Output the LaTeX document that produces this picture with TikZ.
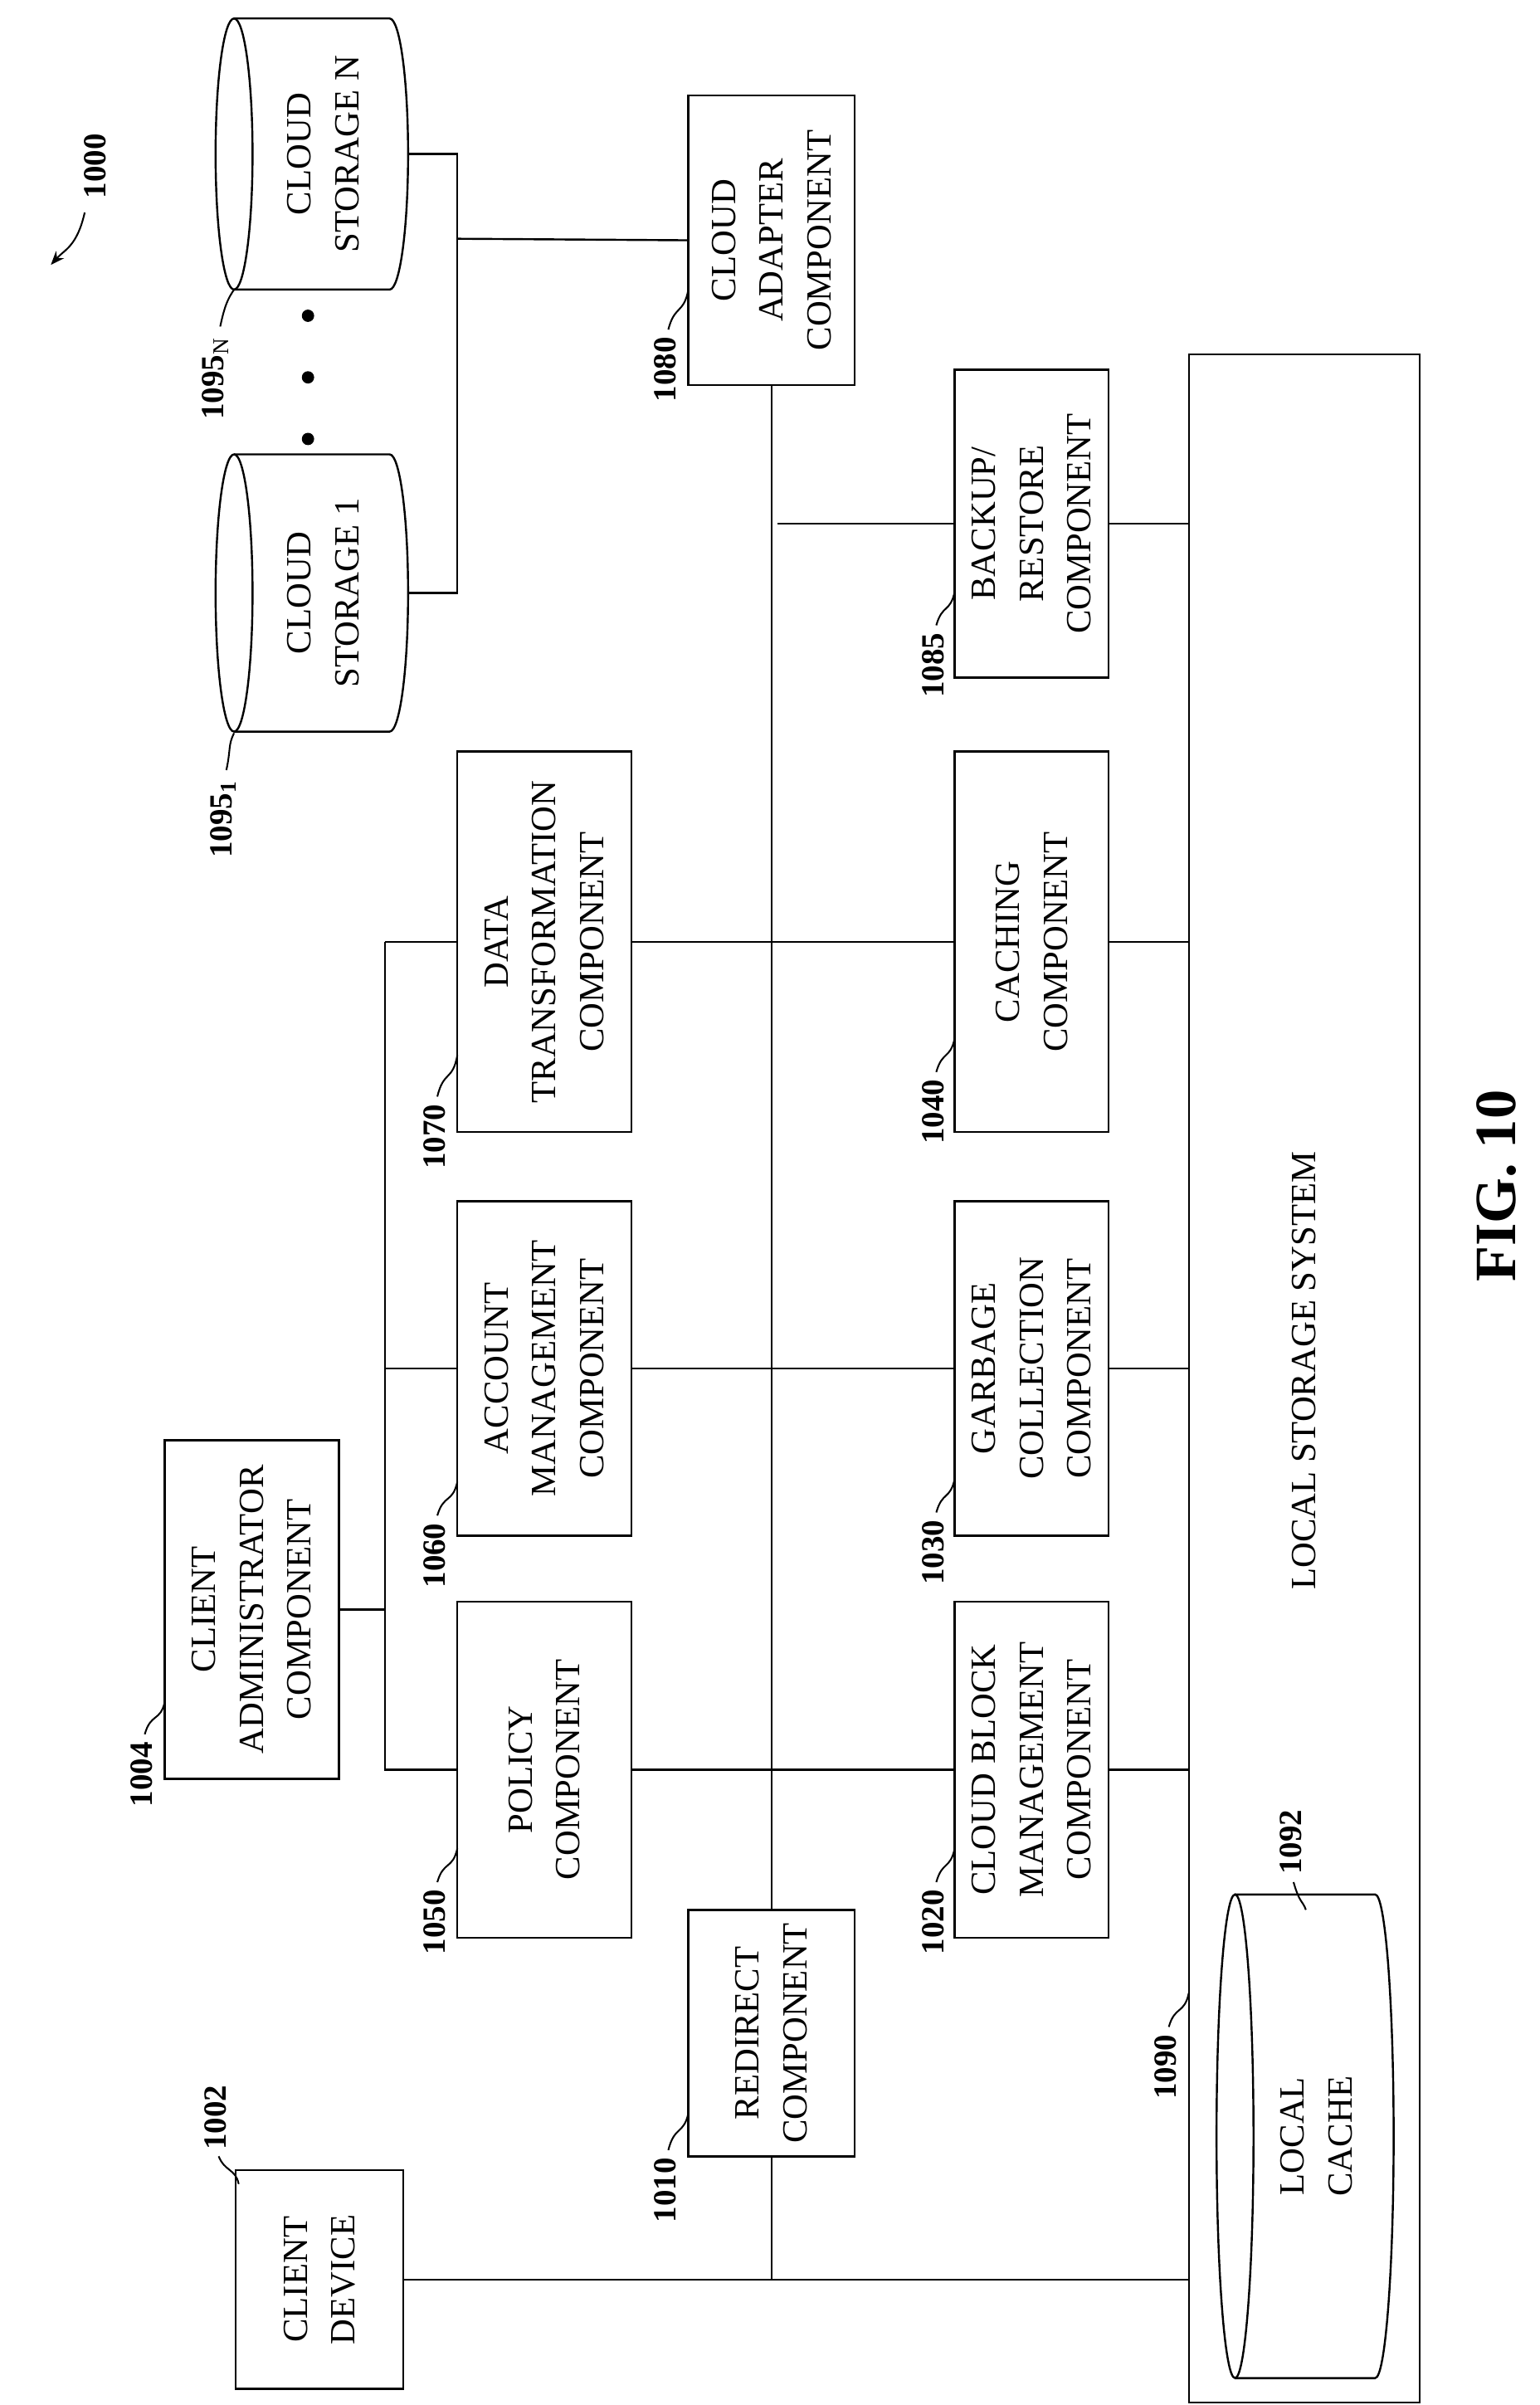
\documentclass[tikz,border=0pt]{standalone}
\usepackage{fontspec}
\setmainfont{Liberation Serif}
\usetikzlibrary{arrows.meta}
\begin{document}
\begin{tikzpicture}[x=1pt,y=-1pt,line width=1.3pt,
  box/.style={draw,rotate=90,align=center,font=\fontsize{23}{31}\selectfont,inner sep=0pt},
  txt/.style={rotate=90,align=center,font=\fontsize{23}{31}\selectfont},
  lbl/.style={rotate=90,font=\bfseries\fontsize{21}{24}\selectfont},
  lead/.style={line width=1.1pt}]
\useasboundingbox (0,0) rectangle (1000,1561.5);
\node[box,minimum width=142,minimum height=109] (client) at (207.5,1480) {CLIENT\\DEVICE};
\node[box,minimum width=160,minimum height=108] (redirect) at (501,1320) {REDIRECT\\COMPONENT};
\node[box,minimum width=218,minimum height=113] (policy) at (353.5,1149) {POLICY\\COMPONENT};
\node[box,minimum width=220,minimum height=113] (admin) at (163.5,1045) {CLIENT\\ADMINISTRATOR\\COMPONENT};
\node[box,minimum width=217,minimum height=113] (account) at (353.5,888.5) {ACCOUNT\\MANAGEMENT\\COMPONENT};
\node[box,minimum width=247,minimum height=113] (datat) at (353.5,611.5) {DATA\\TRANSFORMATION\\COMPONENT};
\node[box,minimum width=218,minimum height=100] (cbm) at (670,1149) {CLOUD BLOCK\\MANAGEMENT\\COMPONENT};
\node[box,minimum width=217,minimum height=100] (gc) at (670,888.5) {GARBAGE\\COLLECTION\\COMPONENT};
\node[box,minimum width=247,minimum height=100] (cache) at (670,611.5) {CACHING\\COMPONENT};
\node[box,minimum width=200,minimum height=100] (backup) at (670,340) {BACKUP/\\RESTORE\\COMPONENT};
\node[box,minimum width=188,minimum height=108] (adapter) at (501,156) {CLOUD\\ADAPTER\\COMPONENT};
\node[draw,rotate=90,minimum width=1330,minimum height=150,inner sep=0pt] (lss) at (847,895) {};
\node[txt] (lsstxt) at (847,890) {LOCAL STORAGE SYSTEM};
\draw (152,385) ellipse[x radius=12,y radius=90];
\draw (152,295) -- (253,295) arc[start angle=-90,end angle=90,x radius=12,y radius=90] -- (152,475);
\node[txt] (cs1) at (210,385) {CLOUD\\STORAGE 1};
\coordinate (cs1r) at (265,385);
\draw (152,100) ellipse[x radius=12,y radius=88];
\draw (152,12) -- (253,12) arc[start angle=-90,end angle=90,x radius=12,y radius=88] -- (152,188);
\node[txt] (csn) at (210,100) {CLOUD\\STORAGE N};
\coordinate (csnr) at (265,100);
\draw (802,1387) ellipse[x radius=12,y radius=157];
\draw (802,1230) -- (893,1230) arc[start angle=-90,end angle=90,x radius=12,y radius=157] -- (802,1544);
\node[txt] (lcache) at (855,1387) {LOCAL\\CACHE};
\foreach \yy in {205,245,285} \fill (200,\yy) circle (4);
\coordinate (cj) at (297,385);
\coordinate (cjn) at (297,100);
\draw (cs1r) -- (cj) -- (cjn) -- (csnr);
\draw (297,155) -- (adapter.north);
\draw (adapter.west) -- (redirect.east);
\draw (redirect.west) -- (redirect.west |- client.south);
\draw (client.south) -- (lss.north |- client.south);
\coordinate (bj) at (505,340);
\draw (bj) -- (backup.north);
\draw (backup.south) -- (lss.north |- backup.south);
\draw (policy.south) -- (cbm.north); \draw (cbm.south) -- (lss.north |- cbm.south);
\draw (account.south) -- (gc.north); \draw (gc.south) -- (lss.north |- gc.south);
\draw (datat.south) -- (cache.north); \draw (cache.south) -- (lss.north |- cache.south);
\coordinate (lb1) at (250,611.5);
\coordinate (lb2) at (250,1149);
\draw (lb1) -- (datat.north);
\draw (lb1) -- (lb2) -- (policy.north);
\draw (250,888.5) -- (account.north);
\draw (admin.south) -- (250,1045);
\node[lbl] (l1000) at (62,108) {1000};
\draw[lead,-{Stealth[length=9pt,width=7pt]}] (55,138) .. controls (50,160) and (42,162) .. (33,172);
\node[lbl] (l1002) at (140,1375) {1002};
\draw[lead] (142,1400) .. controls (146,1410) and (153,1408) .. (155,1418);
\node[lbl] (l1004) at (92,1152) {1004};
\draw[lead] (94,1126) .. controls (98,1112) and (104,1118) .. (107,1105);
\node[lbl] (l1010) at (432,1422) {1010};
\draw[lead] (434,1396) .. controls (438,1380) and (444,1386) .. (447,1372);
\node[lbl] (l1050) at (282,1248) {1050};
\draw[lead] (284,1222) .. controls (288,1208) and (294,1214) .. (297,1200);
\node[lbl] (l1060) at (282,1010) {1060};
\draw[lead] (284,984) .. controls (288,970) and (294,976) .. (297,962);
\node[lbl] (l1070) at (282,738) {1070};
\draw[lead] (284,712) .. controls (288,695) and (294,702) .. (297,685);
\node[lbl] (l1020) at (606,1248) {1020};
\draw[lead] (608,1222) .. controls (612,1208) and (617,1214) .. (620,1200);
\node[lbl] (l1030) at (606,1008) {1030};
\draw[lead] (608,982) .. controls (612,968) and (617,974) .. (620,960);
\node[lbl] (l1040) at (606,722) {1040};
\draw[lead] (608,696) .. controls (612,682) and (617,688) .. (620,674);
\node[lbl] (l1085) at (606,432) {1085};
\draw[lead] (608,406) .. controls (612,392) and (617,398) .. (620,384);
\node[lbl] (l1080) at (432,240) {1080};
\draw[lead] (434,214) .. controls (438,198) and (444,204) .. (447,188);
\node[lbl] (l1090) at (757,1342) {1090};
\draw[lead] (759,1316) .. controls (763,1302) and (769,1308) .. (772,1294);
\node[lbl] (l1092) at (838,1196) {1092};
\draw[lead] (840,1222) .. controls (844,1236) and (846,1234) .. (848,1240);
\node[lbl] (l10951) at (145,532) {1095$_\mathbf{1}$};
\draw[lead] (147,500) .. controls (150,486) and (148,484) .. (152,476);
\node[lbl] (l1095n) at (140,246) {1095$_\mathrm{N}$};
\draw[lead] (143,212) .. controls (146,198) and (148,194) .. (152,188);
\node[rotate=90,font=\bfseries\fontsize{38}{42}\selectfont] (fig) at (972,770) {FIG. 10};
\end{tikzpicture}
\end{document}
